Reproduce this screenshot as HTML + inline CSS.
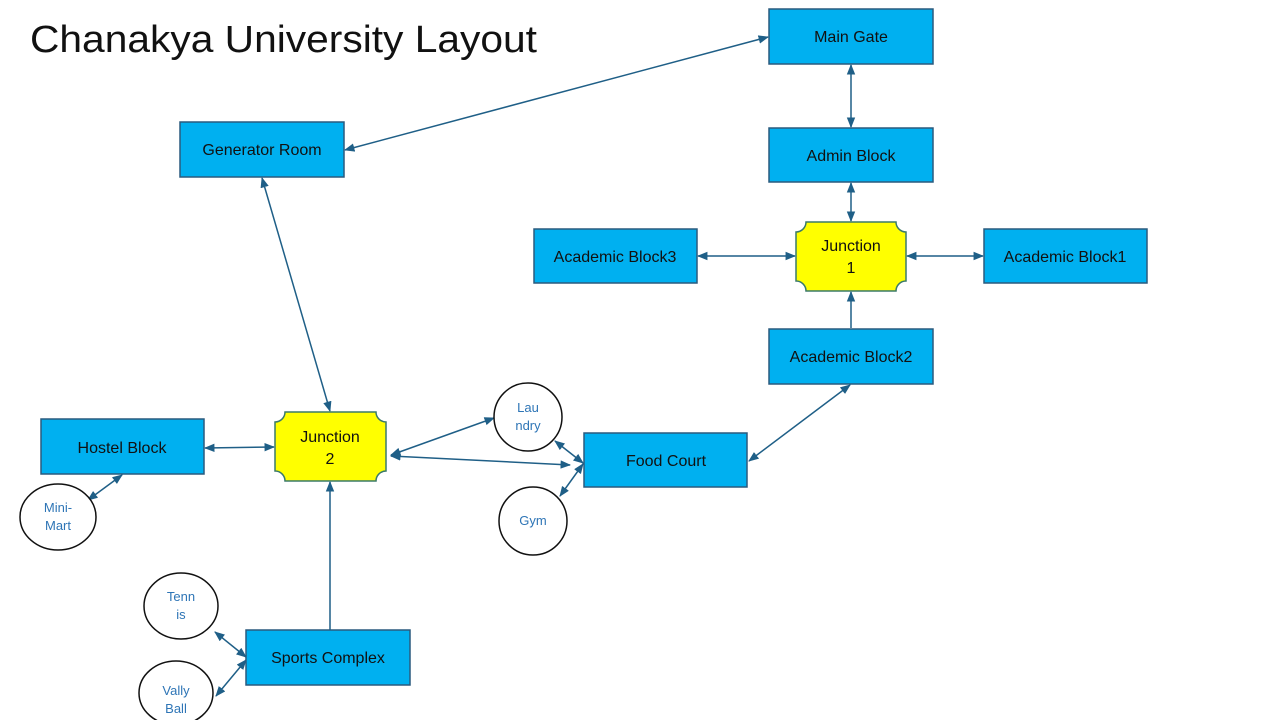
<!DOCTYPE html>
<html><head><meta charset="utf-8"><style>
html,body{margin:0;padding:0;background:#fff;}
svg{display:block;font-family:"Liberation Sans",sans-serif;}
.b{fill:#00b0f0;stroke:#2a5a7e;stroke-width:1.5;}
.j{fill:#ffff00;stroke:#3a7a6a;stroke-width:1.5;}
.c{fill:#fff;stroke:#111;stroke-width:1.5;}
.l{stroke:#1f5f87;stroke-width:1.5;fill:none;}
.t{font-size:16px;fill:#111;text-anchor:middle;}
.s{font-size:13px;fill:#2e75b6;text-anchor:middle;}
</style></head><body>
<svg width="1280" height="720" viewBox="0 0 1280 720">
<defs>
<marker id="a" viewBox="0 0 10 10" refX="9" refY="5" markerWidth="7" markerHeight="7" orient="auto-start-reverse"><path d="M0,1 L10,5 L0,9 z" fill="#1f5f87"/></marker>
</defs>
<text x="30" y="52" font-size="38" fill="#111" textLength="507" lengthAdjust="spacingAndGlyphs">Chanakya University Layout</text>

<line class="l" x1="768" y1="37" x2="345" y2="150" marker-start="url(#a)" marker-end="url(#a)"/>
<line class="l" x1="851" y1="65" x2="851" y2="127" marker-start="url(#a)" marker-end="url(#a)"/>
<line class="l" x1="851" y1="183" x2="851" y2="221" marker-start="url(#a)" marker-end="url(#a)"/>
<line class="l" x1="698" y1="256" x2="795" y2="256" marker-start="url(#a)" marker-end="url(#a)"/>
<line class="l" x1="907" y1="256" x2="983" y2="256" marker-start="url(#a)" marker-end="url(#a)"/>
<line class="l" x1="851" y1="328" x2="851" y2="292" marker-end="url(#a)"/>
<line class="l" x1="850" y1="385" x2="749" y2="461" marker-start="url(#a)" marker-end="url(#a)"/>
<line class="l" x1="262" y1="178" x2="330" y2="411" marker-start="url(#a)" marker-end="url(#a)"/>
<line class="l" x1="205" y1="448" x2="274" y2="447" marker-start="url(#a)" marker-end="url(#a)"/>
<line class="l" x1="391" y1="455" x2="494" y2="418" marker-start="url(#a)" marker-end="url(#a)"/>
<line class="l" x1="391" y1="456" x2="570" y2="465" marker-start="url(#a)" marker-end="url(#a)"/>
<line class="l" x1="555" y1="441" x2="583" y2="463" marker-start="url(#a)" marker-end="url(#a)"/>
<line class="l" x1="560" y1="496" x2="583" y2="464" marker-start="url(#a)" marker-end="url(#a)"/>
<line class="l" x1="122" y1="475" x2="88" y2="500" marker-start="url(#a)" marker-end="url(#a)"/>
<line class="l" x1="330" y1="630" x2="330" y2="482" marker-end="url(#a)"/>
<line class="l" x1="215" y1="632" x2="246" y2="657" marker-start="url(#a)" marker-end="url(#a)"/>
<line class="l" x1="216" y1="696" x2="246" y2="660" marker-start="url(#a)" marker-end="url(#a)"/>

<rect class="b" x="769" y="9" width="164" height="55"/><text class="t" x="851" y="42">Main Gate</text>
<rect class="b" x="769" y="128" width="164" height="54"/><text class="t" x="851" y="161">Admin Block</text>
<rect class="b" x="534" y="229" width="163" height="54"/><text class="t" x="615" y="262">Academic Block3</text>
<rect class="b" x="984" y="229" width="163" height="54"/><text class="t" x="1065" y="262">Academic Block1</text>
<rect class="b" x="769" y="329" width="164" height="55"/><text class="t" x="851" y="362">Academic Block2</text>
<rect class="b" x="180" y="122" width="164" height="55"/><text class="t" x="262" y="155">Generator Room</text>
<rect class="b" x="41" y="419" width="163" height="55"/><text class="t" x="122" y="453">Hostel Block</text>
<rect class="b" x="584" y="433" width="163" height="54"/><text class="t" x="666" y="466">Food Court</text>
<rect class="b" x="246" y="630" width="164" height="55"/><text class="t" x="328" y="663">Sports Complex</text>

<path class="j" d="M806,222 L896,222 A10,10 0 0 0 906,232 L906,281 A10,10 0 0 0 896,291 L806,291 A10,10 0 0 0 796,281 L796,232 A10,10 0 0 0 806,222 Z"/>
<text class="t" x="851" y="251">Junction</text><text class="t" x="851" y="273">1</text>
<path class="j" d="M285,412 L376,412 A10,10 0 0 0 386,422 L386,471 A10,10 0 0 0 376,481 L285,481 A10,10 0 0 0 275,471 L275,422 A10,10 0 0 0 285,412 Z"/>
<text class="t" x="330" y="442">Junction</text><text class="t" x="330" y="464">2</text>

<ellipse class="c" cx="528" cy="417" rx="34" ry="34"/><text class="s" x="528" y="412">Lau</text><text class="s" x="528" y="430">ndry</text>
<ellipse class="c" cx="533" cy="521" rx="34" ry="34"/><text class="s" x="533" y="525">Gym</text>
<ellipse class="c" cx="58" cy="517" rx="38" ry="33"/><text class="s" x="58" y="512">Mini-</text><text class="s" x="58" y="530">Mart</text>
<ellipse class="c" cx="181" cy="606" rx="37" ry="33"/><text class="s" x="181" y="601">Tenn</text><text class="s" x="181" y="619">is</text>
<ellipse class="c" cx="176" cy="693" rx="37" ry="32"/><text class="s" x="176" y="695">Vally</text><text class="s" x="176" y="713">Ball</text>
</svg>
</body></html>
